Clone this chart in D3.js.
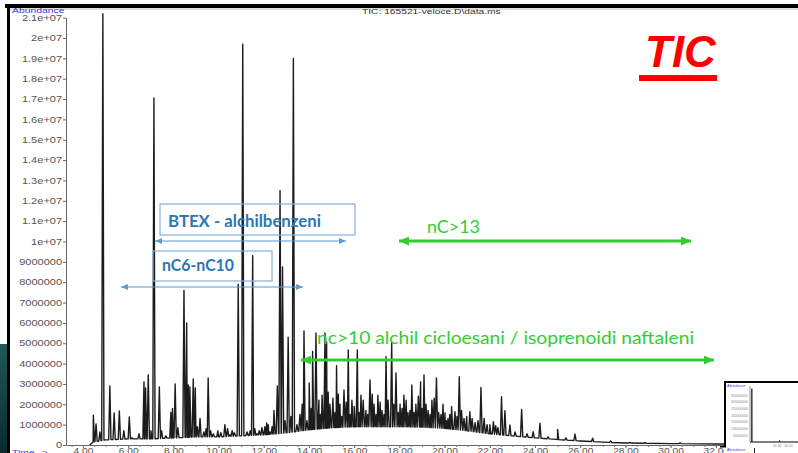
<!DOCTYPE html>
<html>
<head>
<meta charset="utf-8">
<script src="https://cdn.jsdelivr.net/npm/d3@7"></script>
<style>
  html, body { margin: 0; padding: 0; background: #fff; overflow: hidden; }
  svg { display: block; }
</style>
</head>
<body>
<svg id="chart" width="798" height="453"></svg>
<script>
// Resolved peaks: retention time (min) and apex abundance
const peakTimes = [
  4.46, 4.58, 4.75, 4.88, 5.19, 5.38, 5.61, 5.81, 6.05, 6.17, 6.48, 6.70, 6.77, 6.89, 7.01, 7.14,
  7.38, 7.48, 7.67, 7.89, 7.96, 8.08, 8.20, 8.47, 8.59, 8.66, 8.73, 8.88, 8.97, 9.18, 9.35, 9.54,
  9.77, 9.97, 10.28, 10.50, 10.70, 10.87, 11.07, 11.26, 11.51, 11.70, 11.92, 12.13, 12.27, 12.45,
  12.60, 12.72, 12.83, 12.94, 13.08, 13.31, 13.47, 13.60, 13.78, 13.91, 14.01, 14.16, 14.31, 14.44,
  14.58, 14.71, 14.78, 14.93, 15.06, 15.22, 15.37, 15.55, 15.74, 15.90, 16.14, 16.30, 16.52, 16.70,
  16.88, 17.05, 17.23, 17.41, 17.66, 17.85, 18.03, 18.20, 18.38, 18.55, 18.73, 18.94, 19.09, 19.27,
  19.44, 19.64, 19.84, 20.02, 20.15, 20.31, 20.46, 20.65, 20.86, 21.12, 21.35, 21.61, 21.88, 22.16,
  22.36, 22.52, 22.67, 22.89, 23.12, 23.41, 23.65, 23.92, 24.22, 24.58, 25.00, 25.37, 25.77, 26.55,
  27.35, 28.20, 28.87, 30.42
];
const peakApex = [
  1.47e6, 1.03e6, 0.64e6, 2.12e7, 2.9e6, 1.57e6, 1.67e6, 0.7e6, 1.38e6, 0.35e6, 0.55e6, 3.1e6, 2.8e6, 3.44e6, 0.7e6, 1.705e7,
  2.85e6, 0.7e6, 0.45e6, 1.6e6, 1.8e6, 3.0e6, 0.85e6, 7.6e6, 6.0e6, 2.95e6, 2.85e6, 3.24e6, 2.8e6, 1.3e6, 0.64e6, 3.3e6,
  0.55e6, 0.7e6, 1.0e6, 0.5e6, 0.6e6, 7.9e6, 1.97e7, 0.64e6, 9.3e6, 0.55e6, 0.85e6, 1.08e6, 0.64e6, 1.7e6,
  2.9e6, 1.25e7, 8.75e6, 1.2e6, 5.3e6, 1.9e7, 1.0e6, 1.5e6, 5.6e6, 1.2e6, 3.05e6, 4.6e6, 5.5e6, 2.2e6,
  2.45e6, 5.5e6, 5.06e6, 2.0e6, 2.3e6, 3.9e6, 2.0e6, 2.7e6, 4.67e6, 2.2e6, 4.67e6, 2.45e6, 1.7e6, 3.2e6,
  2.0e6, 2.45e6, 1.7e6, 4.34e6, 5.06e6, 3.54e6, 2.0e6, 2.45e6, 1.6e6, 2.95e6, 2.0e6, 3.1e6, 3.44e6, 1.7e6,
  2.2e6, 3.3e6, 1.5e6, 1.57e6, 1.3e6, 1.88e6, 1.64e6, 3.36e6, 1.3e6, 1.64e6, 1.1e6, 2.83e6, 1.0e6, 1.15e6,
  0.85e6, 2.37e6, 1.69e6, 0.98e6, 0.64e6, 1.75e6, 0.55e6, 0.65e6, 1.07e6, 0.4e6, 0.77e6, 0.35e6, 0.54e6, 0.33e6,
  0.2e6, 0.13e6, 0.11e6, 0.1e6
];

// Small co-eluting peaks on the hump
const minorPeakTimes = [
  9.06, 9.45, 9.65, 10.10, 10.40, 10.60, 11.40, 11.60, 11.80, 12.05, 12.20, 12.37,
  13.20, 13.70, 14.10, 14.50, 14.85, 15.15, 15.30, 15.45, 15.65, 15.82, 16.00, 16.22,
  16.40, 16.60, 16.80, 16.97, 17.15, 17.32, 17.50, 17.75, 17.95, 18.12, 18.30, 18.47,
  18.65, 18.84, 19.00, 19.18, 19.36, 19.54, 19.74, 19.93, 20.08, 20.23, 20.55, 20.75,
  20.98, 21.22, 21.48, 21.75, 22.00, 22.26
];
const minorPeakApex = [
  0.9e6, 0.8e6, 0.7e6, 0.6e6, 0.8e6, 0.7e6, 0.7e6, 0.8e6, 0.7e6, 0.9e6, 1.0e6, 0.9e6,
  1.4e6, 2.0e6, 1.8e6, 1.5e6, 2.6e6, 1.6e6, 2.5e6, 1.4e6, 2.1e6, 1.5e6, 1.9e6, 1.6e6,
  2.2e6, 1.5e6, 2.5e6, 1.5e6, 2.1e6, 1.5e6, 2.2e6, 2.0e6, 1.6e6, 1.8e6, 2.2e6, 1.7e6,
  1.6e6, 2.4e6, 1.8e6, 2.0e6, 1.5e6, 2.3e6, 1.6e6, 2.0e6, 1.2e6, 1.5e6, 1.4e6, 1.7e6,
  1.4e6, 1.3e6, 1.2e6, 1.3e6, 1.0e6, 0.95e6
];

// Unresolved hump under the peaks
const baseTimes  = [4.30, 4.45, 5.0, 6.0, 7.0, 8.0, 9.0, 10.0, 11.0, 12.0, 13.0, 14.0, 15.0, 16.0, 17.0,
                    18.0, 19.0, 20.0, 21.0, 22.0, 23.0, 24.0, 25.0, 26.0, 27.0, 28.0, 30.0, 32.0, 33.5];
const baseLevels = [0, 0.15e6, 0.25e6, 0.3e6, 0.3e6, 0.35e6, 0.4e6, 0.4e6, 0.45e6, 0.5e6, 0.6e6, 0.75e6, 0.85e6, 0.9e6, 0.9e6,
                    0.9e6, 0.88e6, 0.82e6, 0.7e6, 0.55e6, 0.45e6, 0.35e6, 0.27e6, 0.2e6, 0.14e6, 0.1e6, 0.07e6, 0.05e6, 0.04e6];

// Axis ticks
const xTickValues = [4, 6, 8, 10, 12, 14, 16, 18, 20, 22, 24, 26, 28, 30, 32];
const xTickLabels = ["4.00", "6.00", "8.00", "10.00", "12.00", "14.00", "16.00", "18.00", "20.00",
                     "22.00", "24.00", "26.00", "28.00", "30.00", "32.00"];
const yTickValues = [0, 1e6, 2e6, 3e6, 4e6, 5e6, 6e6, 7e6, 8e6, 9e6, 1e7, 1.1e7, 1.2e7, 1.3e7, 1.4e7,
                     1.5e7, 1.6e7, 1.7e7, 1.8e7, 1.9e7, 2e7, 2.1e7];
const yTickLabels = ["0", "1000000", "2000000", "3000000", "4000000", "5000000", "6000000", "7000000",
                     "8000000", "9000000", "1e+07", "1.1e+07", "1.2e+07", "1.3e+07", "1.4e+07", "1.5e+07",
                     "1.6e+07", "1.7e+07", "1.8e+07", "1.9e+07", "2e+07", "2.1e+07"];

// Overview chromatogram in the corner thumbnail
const insetTimes  = [3.0, 4.0, 4.15, 4.3, 21.3, 21.5, 21.7, 33.0];
const insetLevels = [0, 0, 4.0e8, 0, 0, 0.12e8, 0, 0];
const insetXTicks = [20, 27];
const insetXLabels = ["10.00", "20.00"];
const insetYTicks = [0.5e8, 1.0e8, 1.5e8, 2.0e8, 2.5e8, 3.0e8, 3.5e8];

const svg = d3.select("#chart");
const FONT = "'Liberation Sans', Arial, sans-serif";

// slide background bits around the screenshot
const defs = svg.append("defs");
const grad = defs.append("linearGradient").attr("id", "slideBg")
  .attr("x1", 0).attr("y1", 0).attr("x2", 0).attr("y2", 1);
grad.append("stop").attr("offset", 0).attr("stop-color", "#1d5a57");
grad.append("stop").attr("offset", 1).attr("stop-color", "#0b2a2c");
svg.append("rect").attr("x", 0).attr("y", 344).attr("width", 8).attr("height", 109).attr("fill", "url(#slideBg)");
svg.append("rect").attr("x", 5).attr("y", 4).attr("width", 793).attr("height", 4).attr("fill", "#000");
svg.append("rect").attr("x", 7).attr("y", 4).attr("width", 3).attr("height", 449).attr("fill", "#000");
svg.append("line").attr("x1", 10).attr("x2", 798).attr("y1", 9).attr("y2", 9).attr("stroke", "#bbb").attr("stroke-width", 1);

// scales
const x = d3.scaleLinear().domain([3.25, 33.5]).range([66, 749.7]);
const y = d3.scaleLinear().domain([0, 2.1e7]).range([445, 17.65]);

// axes
const yAxis = svg.append("g").attr("transform", "translate(66,0)")
  .call(d3.axisLeft(y).tickValues(yTickValues).tickFormat((d, i) => yTickLabels[i])
        .tickSize(3).tickSizeOuter(0).tickPadding(0));
yAxis.select(".domain").attr("stroke", "#666");
yAxis.selectAll(".tick line").attr("stroke", "#666");
yAxis.selectAll(".tick text")
  .attr("font-family", FONT).attr("font-size", 8.5).attr("fill", "#555")
  .attr("transform", "scale(1.3,1)");

const xAxis = svg.append("g").attr("transform", "translate(0,445)")
  .call(d3.axisBottom(x).tickValues(xTickValues).tickFormat((d, i) => xTickLabels[i])
        .tickSize(3).tickSizeOuter(0).tickPadding(0));
xAxis.select(".domain").attr("stroke", "#666");
xAxis.selectAll(".tick line").attr("stroke", "#666");
xAxis.selectAll(".tick text")
  .attr("font-family", FONT).attr("font-size", 8.5).attr("fill", "#555")
  .attr("transform", "scale(1.2,1)");
const xMinor = svg.append("g").attr("transform", "translate(0,445)")
  .call(d3.axisBottom(x).tickValues(d3.range(3.5, 33.5, 0.5)).tickFormat("").tickSize(2).tickSizeOuter(0));
xMinor.select(".domain").remove();
xMinor.selectAll(".tick line").attr("stroke", "#777");

// screenshot captions
svg.append("text").text("Abundance")
  .attr("x", 12 / 1.3).attr("y", 13).attr("transform", "scale(1.3,1)")
  .attr("font-family", FONT).attr("font-size", 8).attr("fill", "#3a3ae6");
svg.append("text").text("Time-->")
  .attr("x", 12 / 1.3).attr("y", 455).attr("transform", "scale(1.3,1)")
  .attr("font-family", FONT).attr("font-size", 8).attr("fill", "#3a3ae6");
svg.append("text").text("TIC: 165521-veloce.D\\data.ms")
  .attr("x", 362 / 1.28).attr("y", 14).attr("transform", "scale(1.28,1)")
  .attr("font-family", FONT).attr("font-size", 8).attr("fill", "#333");

// chromatogram trace: hump plus a narrow spike at every peak
const baseAt = d3.scaleLinear().domain(baseTimes).range(baseLevels).clamp(true);
const halfWidth = 0.05;
const allTimes = peakTimes.concat(minorPeakTimes);
const allApex = peakApex.concat(minorPeakApex);
const pts = baseTimes.map((t, i) => [t, baseLevels[i]]);
allTimes.forEach((t, i) => {
  pts.push([t - halfWidth, baseAt(t - halfWidth)]);
  pts.push([t, Math.max(allApex[i], baseAt(t))]);
  pts.push([t + halfWidth, baseAt(t + halfWidth)]);
});
pts.sort((a, b) => a[0] - b[0]);
const line = d3.line().x(d => x(d[0])).y(d => y(d[1]));
svg.append("path").datum(pts).attr("d", line)
  .attr("fill", "none").attr("stroke", "#1c1c1c").attr("stroke-width", 1.4)
  .attr("stroke-linejoin", "round");

// arrow markers
function marker(id, color, len, wid) {
  defs.append("marker").attr("id", id)
    .attr("markerUnits", "userSpaceOnUse")
    .attr("viewBox", `0 0 ${len} ${wid}`)
    .attr("refX", len).attr("refY", wid / 2)
    .attr("markerWidth", len).attr("markerHeight", wid)
    .attr("orient", "auto-start-reverse")
    .append("path").attr("d", `M0,0L${len},${wid / 2}L0,${wid}Z`).attr("fill", color);
}
marker("arrBlue", "#5b9bd5", 7, 6);
marker("arrGreen", "#33cc33", 10, 9);

function arrow(x1, x2, yy, id, color, w) {
  svg.append("line").attr("x1", x1).attr("x2", x2).attr("y1", yy).attr("y2", yy)
    .attr("stroke", color).attr("stroke-width", w)
    .attr("marker-start", `url(#${id})`).attr("marker-end", `url(#${id})`);
}

// aromatic and light alkane ranges
const BLUE = "#2e75b6";
svg.append("rect").attr("x", 160).attr("y", 204).attr("width", 195).attr("height", 31)
  .attr("fill", "none").attr("stroke", "#86b0e0").attr("stroke-width", 1.2);
svg.append("text").text("BTEX - alchilbenzeni")
  .attr("x", 168).attr("y", 226.5).attr("textLength", 153).attr("lengthAdjust", "spacingAndGlyphs")
  .attr("font-family", "Lato, 'Open Sans', sans-serif").attr("font-weight", "bold").attr("font-size", 17)
  .attr("fill", BLUE);
arrow(155, 346, 241, "arrBlue", "#5b9bd5", 1.2);

svg.append("rect").attr("x", 153).attr("y", 251).attr("width", 119).attr("height", 30)
  .attr("fill", "none").attr("stroke", "#86b0e0").attr("stroke-width", 1.2);
svg.append("text").text("nC6-nC10")
  .attr("x", 162).attr("y", 271).attr("textLength", 72).attr("lengthAdjust", "spacingAndGlyphs")
  .attr("font-family", "Lato, 'Open Sans', sans-serif").attr("font-weight", "bold").attr("font-size", 17)
  .attr("fill", BLUE);
arrow(121, 303, 287, "arrBlue", "#5b9bd5", 1.2);

// heavier fractions
const GREEN = "#33cc33";
svg.append("text").text("nC>13")
  .attr("x", 427).attr("y", 233).attr("textLength", 53).attr("lengthAdjust", "spacingAndGlyphs")
  .attr("font-family", "Lato, 'Open Sans', sans-serif").attr("font-size", 18).attr("fill", GREEN);
arrow(399, 691, 241, "arrGreen", GREEN, 3);

svg.append("text").text("nc>10 alchil cicloesani / isoprenoidi naftaleni")
  .attr("x", 317).attr("y", 343.5).attr("textLength", 377).attr("lengthAdjust", "spacingAndGlyphs")
  .attr("font-family", "Lato, 'Open Sans', sans-serif").attr("font-size", 18).attr("fill", GREEN);
arrow(301, 714, 360, "arrGreen", GREEN, 3);

// TIC heading
svg.append("text").text("TIC")
  .attr("x", 645).attr("y", 67)
  .attr("font-family", FONT).attr("font-weight", "bold").attr("font-style", "italic")
  .attr("font-size", 44).attr("fill", "#ff0000");
svg.append("rect").attr("x", 639).attr("y", 75).attr("width", 78).attr("height", 6).attr("fill", "#ff0000");

// overview thumbnail in the corner
const inset = svg.append("g");
inset.append("rect").attr("x", 724).attr("y", 382).attr("width", 74).attr("height", 71).attr("fill", "#fff");
inset.append("rect").attr("x", 724).attr("y", 381).attr("width", 74).attr("height", 2).attr("fill", "#000");
inset.append("rect").attr("x", 724).attr("y", 381).attr("width", 2).attr("height", 66).attr("fill", "#000");
inset.append("rect").attr("x", 720).attr("y", 446).attr("width", 6).attr("height", 1.5).attr("fill", "#000");
const ix = d3.scaleLinear().domain([3, 33]).range([750, 798]);
const iy = d3.scaleLinear().domain([0, 4.2e8]).range([442, 386]);
inset.append("line").attr("x1", 750).attr("x2", 750).attr("y1", 386).attr("y2", 442).attr("stroke", "#777").attr("stroke-width", 0.8);
inset.append("line").attr("x1", 750).attr("x2", 798).attr("y1", 442).attr("y2", 442).attr("stroke", "#777").attr("stroke-width", 0.8);
inset.selectAll("text.iyt").data(insetYTicks).join("text").attr("class", "iyt")
  .text(d => d3.format("d")(d)).attr("x", 748).attr("y", d => iy(d) + 1.2)
  .attr("text-anchor", "end").attr("font-family", FONT).attr("font-size", 3.4).attr("fill", "#888");
inset.selectAll("text.ixt").data(insetXTicks).join("text").attr("class", "ixt")
  .text((d, i) => insetXLabels[i]).attr("x", d => ix(d)).attr("y", 446.5)
  .attr("text-anchor", "middle").attr("font-family", FONT).attr("font-size", 3.4).attr("fill", "#888");
inset.append("text").text("Abundance").attr("x", 727).attr("y", 386.5)
  .attr("font-family", FONT).attr("font-size", 3.6).attr("fill", "#3a3ae6");
inset.append("text").text("Abundance").attr("x", 727).attr("y", 451)
  .attr("font-family", FONT).attr("font-size", 3.6).attr("fill", "#3a3ae6");
inset.append("path")
  .datum(insetTimes.map((t, i) => [t, insetLevels[i]]))
  .attr("d", d3.line().x(d => ix(d[0])).y(d => iy(d[1])))
  .attr("fill", "none").attr("stroke", "#222").attr("stroke-width", 0.9);
inset.append("line").attr("x1", 754.5).attr("x2", 754.5).attr("y1", 448).attr("y2", 453).attr("stroke", "#222").attr("stroke-width", 1);
</script>
</body>
</html>
